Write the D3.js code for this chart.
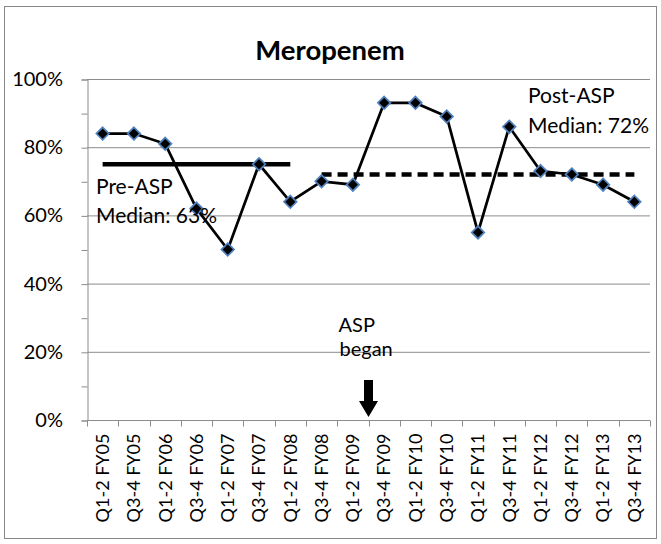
<!DOCTYPE html>
<html><head><meta charset="utf-8">
<script src="https://cdn.jsdelivr.net/npm/d3@7"></script>
<style>body{margin:0;background:#fff}text{font-family:Lato,"Open Sans",sans-serif;fill:#000}</style>
</head><body><svg id="c" width="661" height="544"></svg>
<script>
const categories = ["Q1-2 FY05","Q3-4 FY05","Q1-2 FY06","Q3-4 FY06","Q1-2 FY07","Q3-4 FY07","Q1-2 FY08","Q3-4 FY08","Q1-2 FY09","Q3-4 FY09","Q1-2 FY10","Q3-4 FY10","Q1-2 FY11","Q3-4 FY11","Q1-2 FY12","Q3-4 FY12","Q1-2 FY13","Q3-4 FY13"];
const values = [84,84,81,62,50,75,64,70,69,93,93,89,55,86,73,72,69,64];
const preMedian = {value:75, from:"Q1-2 FY05", to:"Q1-2 FY08"};
const postMedian = {value:72, from:"Q3-4 FY08", to:"Q3-4 FY13"};
const yTicks = [0,20,40,60,80,100];
const yMinorTicks = [0,10,20,30,40,50,60,70,80,90,100];
const aspStartBetween = ["Q1-2 FY09","Q3-4 FY09"];

const svg = d3.select("#c");
svg.append("rect").attr("x",4.5).attr("y",6.5).attr("width",652).attr("height",532).attr("fill","#fff").attr("stroke","#888").attr("stroke-width",1);

const L=87, R=650, T=79, B=420;
const x = d3.scalePoint().domain(categories).range([L,R]).padding(0.5);
const y = d3.scaleLinear().domain([0,100]).range([B,T]);
const step = x.step();

// gridlines
svg.append("g").selectAll("line").data(yTicks.filter(d=>d>0)).join("line")
  .attr("x1",L).attr("x2",R).attr("y1",d=>y(d)+0.5).attr("y2",d=>y(d)+0.5)
  .attr("stroke","#8c8c8c").attr("stroke-width",1);

// y axis
const ya = svg.append("g").attr("transform",`translate(${L+0.5},0.5)`)
  .call(d3.axisLeft(y).tickValues(yMinorTicks).tickSize(6).tickFormat(""));
ya.select(".domain").attr("stroke","#8c8c8c");
ya.selectAll(".tick line").attr("stroke","#8c8c8c");
svg.append("g").selectAll("text").data(yTicks).join("text")
  .attr("x",63).attr("y",d=>y(d)).attr("dy","0.35em").attr("text-anchor","end")
  .style("font-size","20px").text(d=>d+"%");

// x axis
const xa = svg.append("g").attr("transform",`translate(0,${B+0.5})`);
xa.append("line").attr("x1",L).attr("x2",R).attr("stroke","#8c8c8c");
const bounds = d3.range(categories.length+1).map(i=>L+i*step);
xa.selectAll("line.t").data(bounds).join("line").attr("class","t")
  .attr("x1",d=>Math.round(d)+0.5).attr("x2",d=>Math.round(d)+0.5).attr("y1",0).attr("y2",6).attr("stroke","#8c8c8c");
xa.selectAll("text").data(categories).join("text")
  .attr("transform",d=>`translate(${x(d)},13) rotate(-90)`)
  .attr("dy","0.35em").attr("text-anchor","end").style("font-size","18px").text(d=>d);

// median lines
svg.append("line").attr("x1",x(preMedian.from)).attr("x2",x(preMedian.to))
  .attr("y1",y(preMedian.value)).attr("y2",y(preMedian.value)).attr("stroke","#000").attr("stroke-width",4.5);
svg.append("line").attr("x1",x(postMedian.from)).attr("x2",x(postMedian.to))
  .attr("y1",y(postMedian.value)).attr("y2",y(postMedian.value)).attr("stroke","#000").attr("stroke-width",4.5)
  .attr("stroke-dasharray","10,6");

// series line
const line = d3.line().x((d,i)=>x(categories[i])).y(d=>y(d));
svg.append("path").attr("d",line(values)).attr("fill","none").attr("stroke","#000").attr("stroke-width",2.75);
svg.append("g").selectAll("path").data(values).join("path")
  .attr("transform",(d,i)=>`translate(${x(categories[i])},${y(d)})`)
  .attr("d",d3.symbol(d3.symbolDiamond2,100)())
  .attr("fill","#000").attr("stroke","#4f81bd").attr("stroke-width",1.75);

// title
svg.append("text").attr("x",330).attr("y",60).attr("text-anchor","middle")
  .style("font-size","27.5px").style("font-weight","bold").text("Meropenem");

// annotations
const ann = svg.append("g").style("font-size","21px");
ann.append("text").attr("x",96).attr("y",194).text("Pre-ASP");
ann.append("text").attr("x",96).attr("y",223).text("Median: 63%");
ann.append("text").attr("x",528).attr("y",103).text("Post-ASP");
ann.append("text").attr("x",528).attr("y",133).text("Median: 72%");
const ax = (x(aspStartBetween[0])+x(aspStartBetween[1]))/2;
svg.append("text").attr("x",ax-30).attr("y",332).style("font-size","20px").text("ASP");
svg.append("text").attr("x",ax-29).attr("y",356).style("font-size","20px").text("began");
svg.append("path").attr("d",`M${ax-4.5},380 H${ax+4.5} V401 H${ax+9.5} L${ax},417 L${ax-9.5},401 H${ax-4.5} Z`).attr("fill","#000");
</script></body></html>
